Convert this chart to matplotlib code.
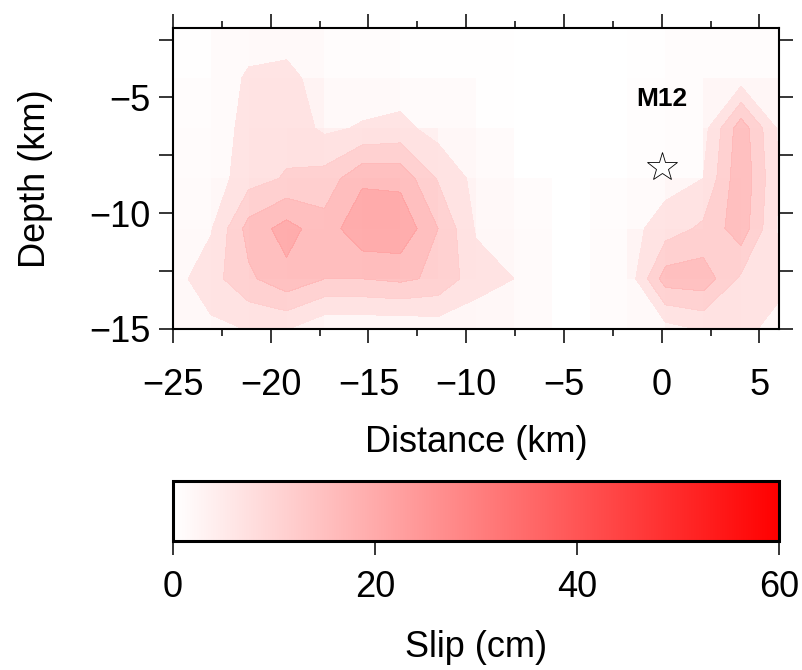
import numpy as np
import matplotlib
matplotlib.use("Agg")
import matplotlib.pyplot as plt
from matplotlib.colors import LinearSegmentedColormap, Normalize
from matplotlib.cm import ScalarMappable
from matplotlib.ticker import MultipleLocator

plt.rcParams['font.family'] = ['Liberation Sans', 'DejaVu Sans']

# fault plane: 16 subfaults along strike, 6 down dip
strike_edges = np.linspace(-25, 6, 17)   # km
depth_edges = np.linspace(-2, -15, 7)    # km

# slip of each subfault (cm), top row first
cell_slip = np.array([
    [0.5, 3, 4, 4, 1.5, 1.5, 0.5, 0.5, 0.5, 0, 0, 0, 0.5, 1.5, 2, 1.5],
    [2, 3, 8, 8, 4, 4, 3.5, 3, 0.5, 0, 0, 0, 1, 1.5, 6, 6],
    [2.5, 3.5, 10, 12, 10, 12, 10, 5, 3.5, 0, 0, 0, 1, 1.5, 10, 10],
    [3, 5, 15, 16, 18, 22, 16, 8, 4.5, 2.5, 0, 1.5, 3, 6, 14, 10],
    [4, 8, 16, 18, 17, 20, 16, 10, 5, 3.5, 0, 2.5, 7, 14, 14, 8],
    [4.5, 6, 9, 8, 6, 6, 6, 6, 5, 3.5, 0, 2.5, 4, 8, 9, 6],
])

# slip at the subfault corners (cm), used for the contours
node_slip = np.array([
    [1, 1, 1.5, 1.5, 1.5, 1.5, 1.5, 1, 1, 0.5, 0.5, 0.5, 0.5, 0.5, 1, 1, 1],
    [0.5, 0.5, 6, 7, 2, 2, 2, 1.5, 1, 0.5, 0.5, 0.5, 0.5, 1, 2, 2.5, 2],
    [1, 1.5, 7, 8, 4, 5.5, 6.5, 3, 2, 1, 0.5, 0.5, 0.5, 1, 3, 18, 4],
    [1, 2, 8, 10.5, 12, 19, 18.5, 9.5, 3.5, 1.5, 1, 1, 2, 3, 5, 19, 5],
    [1, 4.5, 17, 22, 17, 24, 24, 15, 4.5, 2, 1, 1, 3, 7.5, 11, 18, 4],
    [3, 8, 14, 18.5, 15, 15, 16, 14, 7, 5, 2, 1, 1.5, 17.5, 18, 9, 7],
    [2, 3.8, 5.2, 5.2, 1, 1, 1, 2, 2, 1, 1, 1, 1, 3, 5.5, 7, 2.5],
])
contour_levels = [5, 10, 15, 20, 25]

hypo_x, hypo_z = 0, -8
event_name = "M12"

cmap = LinearSegmentedColormap.from_list("slip", ["white", "red"])
norm = Normalize(0, 60)

fig = plt.figure(figsize=(8.03, 6.70), dpi=100)
ax = fig.add_axes([0.2154, 0.5090, 0.7547, 0.4493])

ax.pcolormesh(strike_edges, depth_edges, cell_slip, cmap=cmap, norm=norm, alpha=0.35)
X, Z = np.meshgrid(strike_edges, depth_edges)
ax.contourf(X, Z, node_slip, levels=contour_levels, cmap=cmap, norm=norm, alpha=0.8)

ax.plot(hypo_x, hypo_z, marker='*', markersize=22, markerfacecolor='white',
        markeredgecolor='black', markeredgewidth=0.6)
ax.text(0, -5.05, event_name, ha='center', va='center', fontsize=19, fontweight='bold')

ax.set_xlim(-25, 6)
ax.set_ylim(-15, -2)
ax.xaxis.set_major_locator(MultipleLocator(5))
ax.xaxis.set_minor_locator(MultipleLocator(2.5))
ax.set_yticks([-15, -10, -5])
ax.set_yticks([-12.5, -7.5, -2.5], minor=True)
ax.tick_params(which='both', direction='out', width=1.1, labelsize=26,
               top=True, right=True)
ax.tick_params(axis='x', which='major', length=10, pad=18)
ax.tick_params(axis='x', which='minor', length=5)
ax.tick_params(axis='y', which='both', length=10, pad=6)
for s in ax.spines.values():
    s.set_linewidth(1.5)
ax.set_xlabel("Distance (km)", fontsize=26, labelpad=16)
ax.set_ylabel("Depth (km)", fontsize=26, labelpad=26)

cax = fig.add_axes([0.2154, 0.1925, 0.7547, 0.0896])
cb = fig.colorbar(ScalarMappable(norm=norm, cmap=cmap), cax=cax, orientation='horizontal')
cb.set_ticks([0, 20, 40, 60])
cb.outline.set_linewidth(2.2)
cax.tick_params(direction='out', length=10, width=1.1, labelsize=26, pad=11)
cb.set_label("Slip (cm)", fontsize=26, labelpad=18)

fig.savefig("out.png", dpi=100)
